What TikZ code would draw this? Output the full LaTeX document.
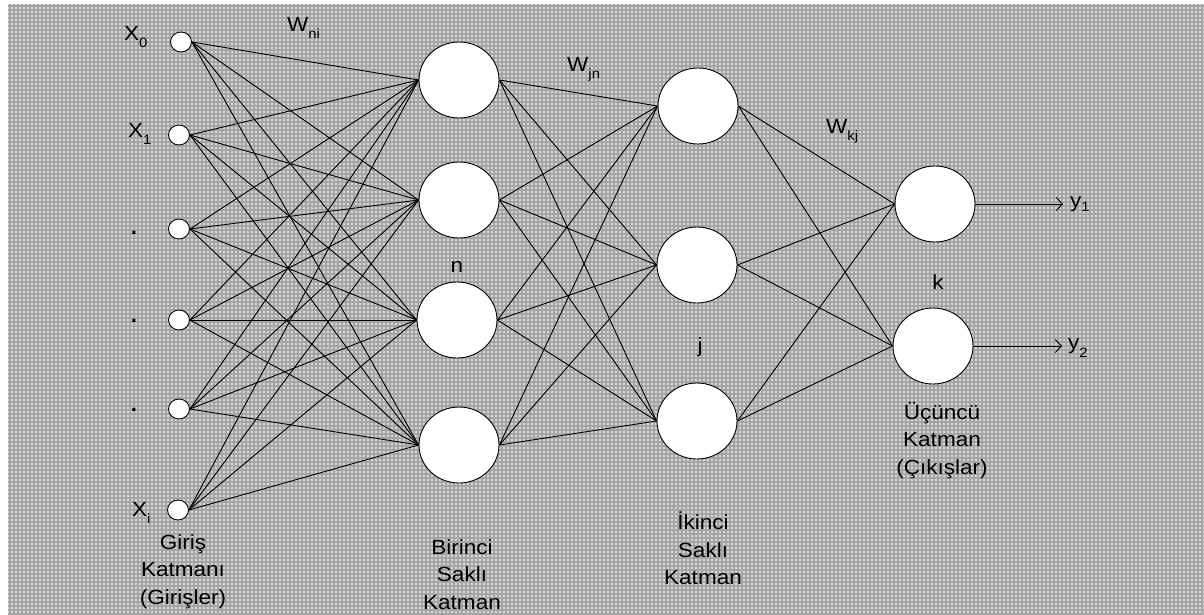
\documentclass[tikz,border=0pt]{standalone}
\usepackage{fontspec}
\setmainfont{Liberation Sans}[FakeStretch=1.1]
\usetikzlibrary{shapes.geometric,arrows.meta}
\newcommand\lowsub[2]{\raisebox{-#1pt}{\fontsize{13.5}{13.5}\selectfont #2}}
\tikzset{
  bgfill/.style={fill={rgb,255:red,216;green,216;blue,216}},
  gridline/.style={draw={rgb,255:red,165;green,165;blue,165}, line width=1.1pt},
  inneuron/.style={ellipse, draw=black, fill=white, line width=0.9pt, minimum width=21pt, minimum height=20pt, inner sep=0pt},
  neuron/.style={ellipse, draw=black, fill=white, line width=0.9pt, minimum width=80pt, minimum height=76pt, inner sep=0pt},
  link/.style={draw=black, line width=0.9pt},
  outarrow/.style={draw=black, line width=0.9pt, -{Straight Barb[length=6pt,width=13pt]}},
  lbl/.style={inner sep=0pt, font=\fontsize{20.5}{27.5}\selectfont, text=black},
  dotlbl/.style={inner sep=0pt, font=\fontsize{30}{30}\selectfont, text=black},
  mlbl/.style={lbl, align=center, anchor=north},
}
\begin{document}
\begin{tikzpicture}[x=1pt,y=-1pt]
\useasboundingbox (0,0) rectangle (1204,615);
\fill[bgfill] (8,4) rectangle (1204,615);
\foreach \gx in {10,14,...,1202} \draw[gridline] (\gx,4) -- (\gx,615);
\foreach \gy in {6,10,...,614} \draw[gridline] (8,\gy) -- (1204,\gy);

% input layer
\node[inneuron] (i0) at (181,42) {};
\node[inneuron] (i1) at (179,135) {};
\node[inneuron] (i2) at (179,229) {};
\node[inneuron] (i3) at (179,320) {};
\node[inneuron] (i4) at (179,409) {};
\node[inneuron] (i5) at (178,510) {};

% first hidden layer
\node[neuron] (h1) at (459,80) {};
\node[neuron] (h2) at (459,200) {};
\node[neuron] (h3) at (457,320) {};
\node[neuron] (h4) at (459,445) {};

% second hidden layer
\node[neuron] (s1) at (698,106) {};
\node[neuron] (s2) at (697,265) {};
\node[neuron] (s3) at (697,421) {};

% output layer
\node[neuron] (o1) at (935,204) {};
\node[neuron] (o2) at (933,346) {};

\foreach \a in {i0,i1,i2,i3,i4,i5}
  \foreach \b in {h1,h2,h3,h4}
    \draw[link] (\a.east) -- (\b.west);
\foreach \a in {h1,h2,h3,h4}
  \foreach \b in {s1,s2,s3}
    \draw[link] (\a.east) -- (\b.west);
\foreach \a in {s1,s2,s3}
  \foreach \b in {o1,o2}
    \draw[link] (\a.east) -- (\b.west);

\coordinate (y1end) at (1063,204);
\coordinate (y2end) at (1062,346);
\draw[outarrow] (o1.east) -- (y1end);
\draw[outarrow] (o2.east) -- (y2end);

% labels
\node[lbl, anchor=base west] (lx0) at (124,41) {X\lowsub{7}{0}};
\node[lbl, anchor=base west] (lx1) at (128,137) {X\lowsub{8}{1}};
\node[dotlbl, anchor=base] (ld1) at (134,234) {.};
\node[dotlbl, anchor=base] (ld2) at (134,322) {.};
\node[dotlbl, anchor=base] (ld3) at (134,411) {.};
\node[lbl, anchor=base west] (lxi) at (132,516) {X\lowsub{7}{i}};

\node[lbl, anchor=base west] (lwni) at (287,32) {W\lowsub{7}{ni}};
\node[lbl, anchor=base west] (lwjn) at (567,72) {W\lowsub{7}{jn}};
\node[lbl, anchor=base west] (lwkj) at (826,133) {W\lowsub{7}{kj}};

\node[lbl, anchor=base] (ln) at (457,272) {n};
\node[lbl, anchor=base] (lj) at (700,352) {j};
\node[lbl, anchor=base] (lk) at (938,289) {k};

\node[lbl, anchor=base west] (ly1) at (1070,207) {y\lowsub{4}{1}};
\node[lbl, anchor=base west] (ly2) at (1068,349) {y\lowsub{8}{2}};

\node[mlbl] (tin) at (183,534) {Giriş\\Katmanı\\(Girişler)};
\node[mlbl] (th1) at (462,539) {Birinci\\Saklı\\Katman};
\node[mlbl] (th2) at (703,512) {İkinci\\Saklı\\Katman};
\node[mlbl] (tout) at (942,402) {Üçüncü\\Katman\\(Çıkışlar)};
\end{tikzpicture}
\end{document}
